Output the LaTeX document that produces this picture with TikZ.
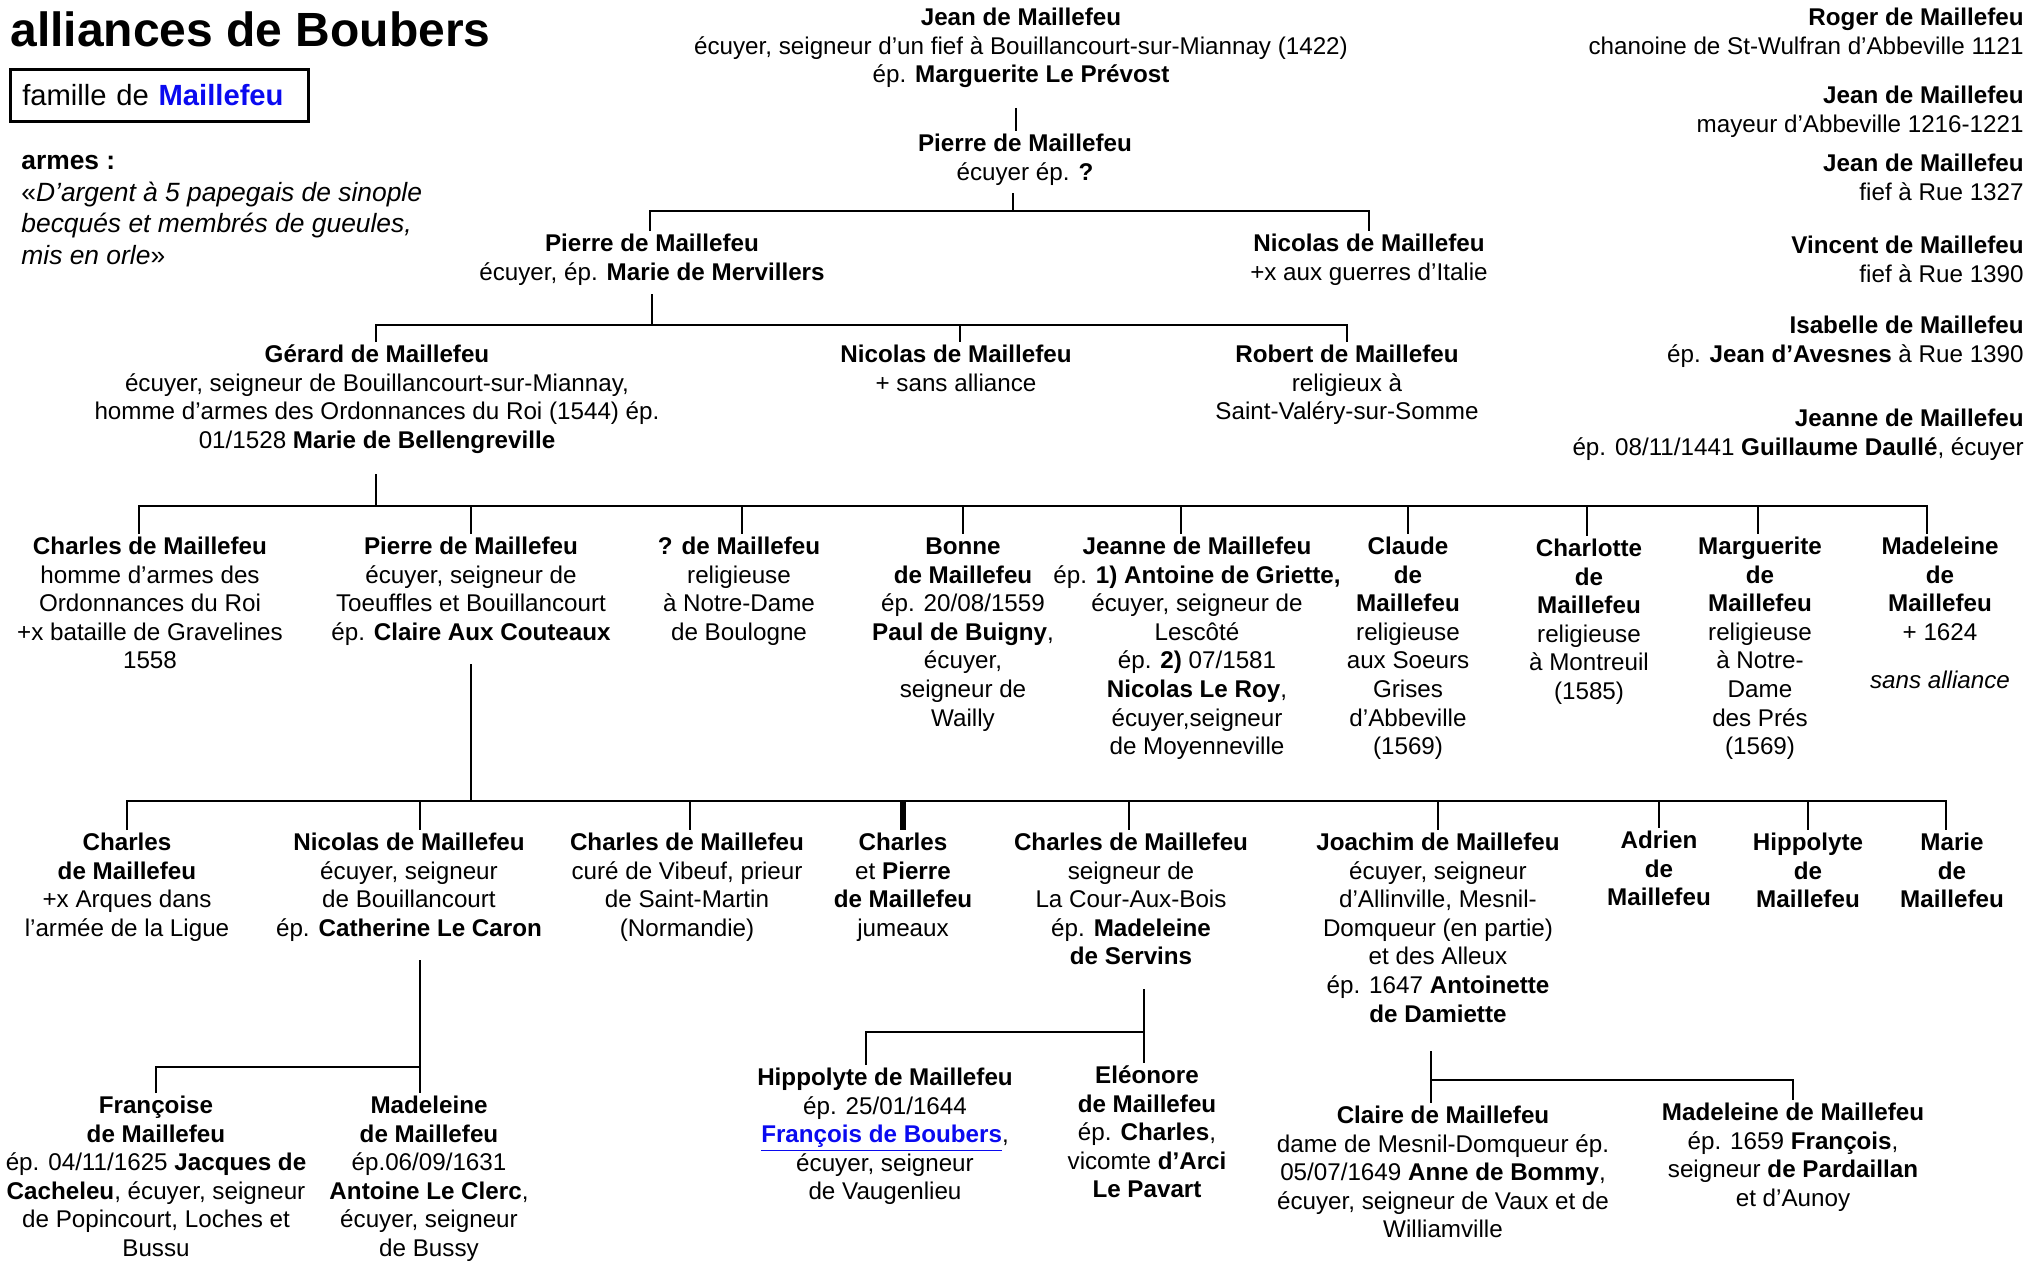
\documentclass[tikz,border=0pt]{standalone}
\usepackage{fontspec}
\setmainfont{Liberation Sans}
\definecolor{mblue}{RGB}{10,10,240}
\newcommand\gnode[4]{\node[fn] (#1) at (#2,#3-12) {\strut#4};}
\newcommand\rnode[3]{\node[rt] (#1) at (2024,#2-12) {\strut#3};}
\begin{document}
\begin{tikzpicture}[x=0.5pt,y=-0.5pt,
  fn/.style={font=\fontsize{12.1}{14.3}\selectfont, align=center, inner sep=0pt, anchor=north},
  rt/.style={font=\fontsize{12.1}{14.3}\selectfont, align=right, inner sep=0pt, anchor=north east},
  ln/.style={line width=1.2pt},
  thk/.style={line width=2.6pt}]
\useasboundingbox (0,0) rectangle (2040,1263);

% header
\node[anchor=base west, inner sep=0pt, font=\bfseries\fontsize{24}{28}\selectfont] (title) at (10,47) {alliances de Boubers};
\node[draw, line width=1.3pt, anchor=north west, inner xsep=6pt, inner ysep=0pt, minimum height=26pt, text width=137pt, align=left, font=\fontsize{14.6}{17}\selectfont] (fam) at (9,68) {famille de \textcolor{mblue}{\textbf{Maillefeu}}};
\node[anchor=north west, inner sep=0pt, align=left, font=\fontsize{13.2}{15.8}\selectfont] (armes) at (21,147) {\strut\textbf{armes :}\\«\textit{D’argent à 5 papegais de sinople}\\\textit{becqués et membrés de gueules,}\\\textit{mis en orle}»};

% right column
\rnode{roger}{17}{\textbf{Roger de Maillefeu}\\chanoine de St-Wulfran d’Abbeville 1121}
\rnode{jeanb}{95}{\textbf{Jean de Maillefeu}\\mayeur d’Abbeville 1216-1221}
\rnode{jeanc}{163}{\textbf{Jean de Maillefeu}\\fief à Rue 1327}
\rnode{vincent}{245}{\textbf{Vincent de Maillefeu}\\fief à Rue 1390}
\rnode{isabelle}{325}{\textbf{Isabelle de Maillefeu}\\ép. \textbf{Jean d’Avesnes} à Rue 1390}
\rnode{jeanned}{418}{\textbf{Jeanne de Maillefeu}\\ép. 08/11/1441 \textbf{Guillaume Daullé}, écuyer}

% generations 1-3
\gnode{jean}{1021}{17}{\textbf{Jean de Maillefeu}\\écuyer, seigneur d’un fief à Bouillancourt-sur-Miannay (1422)\\ép. \textbf{Marguerite Le Prévost}}
\gnode{pierrea}{1025}{143}{\textbf{Pierre de Maillefeu}\\écuyer ép. \textbf{?}}
\gnode{pierreb}{652}{243}{\textbf{Pierre de Maillefeu}\\écuyer, ép. \textbf{Marie de Mervillers}}
\gnode{nica}{1369}{243}{\textbf{Nicolas de Maillefeu}\\+x aux guerres d’Italie}
\gnode{gerard}{377}{354}{\textbf{Gérard de Maillefeu}\\écuyer, seigneur de Bouillancourt-sur-Miannay,\\homme d’armes des Ordonnances du Roi (1544) ép.\\01/1528 \textbf{Marie de Bellengreville}}
\gnode{nicb}{956}{354}{\textbf{Nicolas de Maillefeu}\\+ sans alliance}
\gnode{robert}{1347}{354}{\textbf{Robert de Maillefeu}\\religieux à\\Saint-Valéry-sur-Somme}

% row 3
\gnode{cha}{150}{546}{\textbf{Charles de Maillefeu}\\homme d’armes des\\Ordonnances du Roi\\+x bataille de Gravelines\\1558}
\gnode{pierrec}{471}{546}{\textbf{Pierre de Maillefeu}\\écuyer, seigneur de\\Toeuffles et Bouillancourt\\ép. \textbf{Claire Aux Couteaux}}
\gnode{qm}{739}{546}{\textbf{? de Maillefeu}\\religieuse\\à Notre-Dame\\de Boulogne}
\gnode{bonne}{963}{546}{\textbf{Bonne}\\\textbf{de Maillefeu}\\ép. 20/08/1559\\\textbf{Paul de Buigny},\\écuyer,\\seigneur de\\Wailly}
\gnode{jeanne}{1197}{546}{\textbf{Jeanne de Maillefeu}\\ép. \textbf{1) Antoine de Griette,}\\écuyer, seigneur de\\Lescôté\\ép. \textbf{2)} 07/1581\\\textbf{Nicolas Le Roy},\\écuyer,seigneur\\de Moyenneville}
\gnode{claude}{1408}{546}{\textbf{Claude}\\\textbf{de}\\\textbf{Maillefeu}\\religieuse\\aux Soeurs\\Grises\\d’Abbeville\\(1569)}
\gnode{charlotte}{1589}{548}{\textbf{Charlotte}\\\textbf{de}\\\textbf{Maillefeu}\\religieuse\\à Montreuil\\(1585)}
\gnode{marguerite}{1760}{546}{\textbf{Marguerite}\\\textbf{de}\\\textbf{Maillefeu}\\religieuse\\à Notre-\\Dame\\des Prés\\(1569)}
\gnode{madeleinea}{1940}{546}{\textbf{Madeleine}\\\textbf{de}\\\textbf{Maillefeu}\\+ 1624\\[10pt]\textit{sans alliance}}

% row 4
\gnode{chb}{127}{842}{\textbf{Charles}\\\textbf{de Maillefeu}\\+x Arques dans\\l’armée de la Ligue}
\gnode{nicc}{409}{842}{\textbf{Nicolas de Maillefeu}\\écuyer, seigneur\\de Bouillancourt\\ép. \textbf{Catherine Le Caron}}
\gnode{chc}{687}{842}{\textbf{Charles de Maillefeu}\\curé de Vibeuf, prieur\\de Saint-Martin\\(Normandie)}
\gnode{twins}{903}{842}{\textbf{Charles}\\et \textbf{Pierre}\\\textbf{de Maillefeu}\\jumeaux}
\gnode{chd}{1131}{842}{\textbf{Charles de Maillefeu}\\seigneur de\\La Cour-Aux-Bois\\ép. \textbf{Madeleine}\\\textbf{de Servins}}
\gnode{joachim}{1438}{842}{\textbf{Joachim de Maillefeu}\\écuyer, seigneur\\d’Allinville, Mesnil-\\Domqueur (en partie)\\et des Alleux\\ép. 1647 \textbf{Antoinette}\\\textbf{de Damiette}}
\gnode{adrien}{1659}{840}{\textbf{Adrien}\\\textbf{de}\\\textbf{Maillefeu}}
\gnode{hippolytea}{1808}{842}{\textbf{Hippolyte}\\\textbf{de}\\\textbf{Maillefeu}}
\gnode{marie}{1952}{842}{\textbf{Marie}\\\textbf{de}\\\textbf{Maillefeu}}

% row 5
\gnode{francoise}{156}{1105}{\textbf{Françoise}\\\textbf{de Maillefeu}\\ép. 04/11/1625 \textbf{Jacques de}\\\textbf{Cacheleu}, écuyer, seigneur\\de Popincourt, Loches et\\Bussu}
\gnode{madeleineb}{429}{1105}{\textbf{Madeleine}\\\textbf{de Maillefeu}\\ép.06/09/1631\\\textbf{Antoine Le Clerc},\\écuyer, seigneur\\de Bussy}
\gnode{hippolyteb}{885}{1077}{\textbf{Hippolyte de Maillefeu}\\ép. 25/01/1644\\\textcolor{mblue}{\underline{\textbf{François de Boubers}}},\\écuyer, seigneur\\de Vaugenlieu}
\gnode{eleonore}{1147}{1075}{\textbf{Eléonore}\\\textbf{de Maillefeu}\\ép. \textbf{Charles},\\vicomte \textbf{d’Arci}\\\textbf{Le Pavart}}
\gnode{claire}{1443}{1115}{\textbf{Claire de Maillefeu}\\dame de Mesnil-Domqueur ép.\\05/07/1649 \textbf{Anne de Bommy},\\écuyer, seigneur de Vaux et de\\Williamville}
\gnode{madeleinec}{1793}{1112}{\textbf{Madeleine de Maillefeu}\\ép. 1659 \textbf{François},\\seigneur \textbf{de Pardaillan}\\et d’Aunoy}

% connectors
\coordinate (a0) at (1016,108);
\draw[ln] (a0) -- (a0 |- pierrea.north);

\coordinate (b0) at (1013,193); \coordinate (bm) at (1013,211);
\coordinate (b1) at (650,211); \coordinate (b2) at (1369,211);
\draw[ln] (b0) -- (bm);
\draw[ln] (b1 |- pierreb.north) -- (b1) -- (b2) -- (b2 |- nica.north);

\coordinate (c0) at (652,294); \coordinate (cm) at (652,325);
\coordinate (c1) at (376,325); \coordinate (c2) at (960,325); \coordinate (c3) at (1347,325);
\draw[ln] (c0) -- (cm);
\draw[ln] (c1 |- gerard.north) -- (c1) -- (c3) -- (c3 |- robert.north);
\draw[ln] (c2) -- (c2 |- nicb.north);

\coordinate (d0) at (376,474); \coordinate (dm) at (376,506);
\coordinate (d1) at (139,506); \coordinate (d2) at (471,506); \coordinate (d3) at (742,506);
\coordinate (d4) at (963,506); \coordinate (d5) at (1181,506); \coordinate (d6) at (1408,506);
\coordinate (d7) at (1587,506); \coordinate (d8) at (1758,506); \coordinate (d9) at (1927,506);
\draw[ln] (d0) -- (dm);
\draw[ln] (d1 |- cha.north) -- (d1) -- (d9) -- (d9 |- madeleinea.north);
\foreach \c/\n in {d2/pierrec,d3/qm,d4/bonne,d5/jeanne,d6/claude,d7/charlotte,d8/marguerite}
  \draw[ln] (\c) -- (\c |- \n.north);

\coordinate (e0) at (471,664); \coordinate (em) at (471,801);
\coordinate (e1) at (127,801); \coordinate (e2) at (420,801); \coordinate (e3) at (690,801);
\coordinate (e4) at (903,801); \coordinate (e5) at (1129,801); \coordinate (e6) at (1438,801);
\coordinate (e7) at (1659,801); \coordinate (e8) at (1808,801); \coordinate (e9) at (1946,801);
\draw[ln] (e0) -- (em);
\draw[ln] (e1 |- chb.north) -- (e1) -- (e9) -- (e9 |- marie.north);
\foreach \c/\n in {e2/nicc,e3/chc,e5/chd,e6/joachim,e7/adrien,e8/hippolytea}
  \draw[ln] (\c) -- (\c |- \n.north);
\draw[thk] (e4) -- (e4 |- twins.north);

\coordinate (f0) at (420,960); \coordinate (f1) at (156,1067); \coordinate (f2) at (420,1067);
\draw[ln] (f0) -- (f2 |- madeleineb.north);
\draw[ln] (f1 |- francoise.north) -- (f1) -- (f2);

\coordinate (g0) at (1144,989); \coordinate (g1) at (866,1032); \coordinate (g2) at (1144,1032);
\draw[ln] (g0) -- (g2 |- eleonore.north);
\draw[ln] (g1 |- hippolyteb.north) -- (g1) -- (g2);

\coordinate (h0) at (1431,1051); \coordinate (h1) at (1431,1080); \coordinate (h2) at (1793,1080);
\draw[ln] (h0) -- (h1 |- claire.north);
\draw[ln] (h1) -- (h2) -- (h2 |- madeleinec.north);
\end{tikzpicture}
\end{document}
